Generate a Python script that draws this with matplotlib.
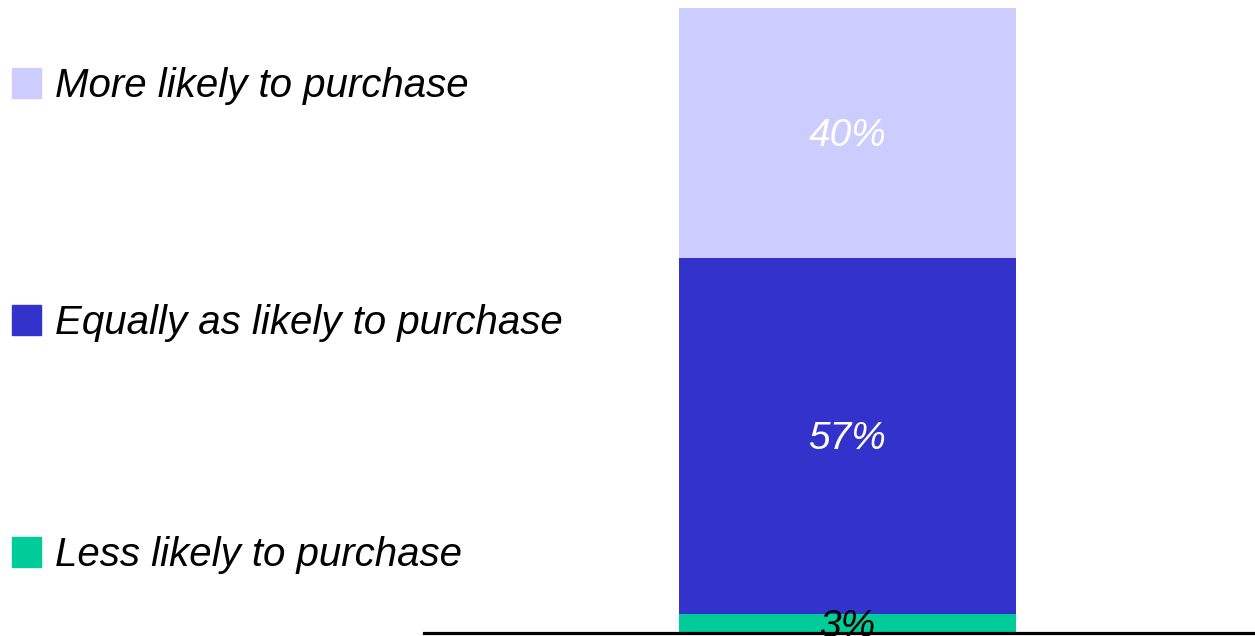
import matplotlib
matplotlib.use("Agg")
import matplotlib.pyplot as plt
from matplotlib.patches import Rectangle

categories = ["Less likely to purchase", "Equally as likely to purchase", "More likely to purchase"]
values = [3, 57, 40]
colors = ["#00CC99", "#3333CC", "#CCCCFF"]
label_colors = ["black", "white", "white"]

plt.rcParams['font.family'] = ['Liberation Sans', 'DejaVu Sans']

fig = plt.figure(figsize=(12.55, 6.36), dpi=100)
W, H = 1255, 636
ax = fig.add_axes([424 / W, 3 / H, 831 / W, 625 / H])

bottom = 0
for v, c, lc in zip(values, colors, label_colors):
    ax.bar(0, v, bottom=bottom, width=337, color=c, zorder=2)
    ax.annotate(f"{v}%", (0, bottom + v / 2), xytext=(0, -3), textcoords='offset pixels',
                ha='center', va='center', color=lc, fontsize=28, style='italic', zorder=3)
    bottom += v

ax.set_xlim(-423.5, 407.5)
ax.set_ylim(0, 100)
for s in ['top', 'right', 'left']:
    ax.spines[s].set_visible(False)
ax.spines['bottom'].set_linewidth(2.3)
ax.spines['bottom'].set_zorder(5)
ax.set_xticks([])
ax.set_yticks([])

# legend on the left
legend_y = [552, 320, 83]
for cat, c, y in zip(categories, colors, legend_y):
    fig.patches.append(Rectangle((12 / W, 1 - (y + 15) / H), 29 / W, 30 / H,
                                 transform=fig.transFigure, color=c))
    fig.text(55 / W, 1 - (y + 3) / H, cat, ha='left', va='center', fontsize=29,
             style='italic', color='black')

fig.savefig("out.png", dpi=100)
